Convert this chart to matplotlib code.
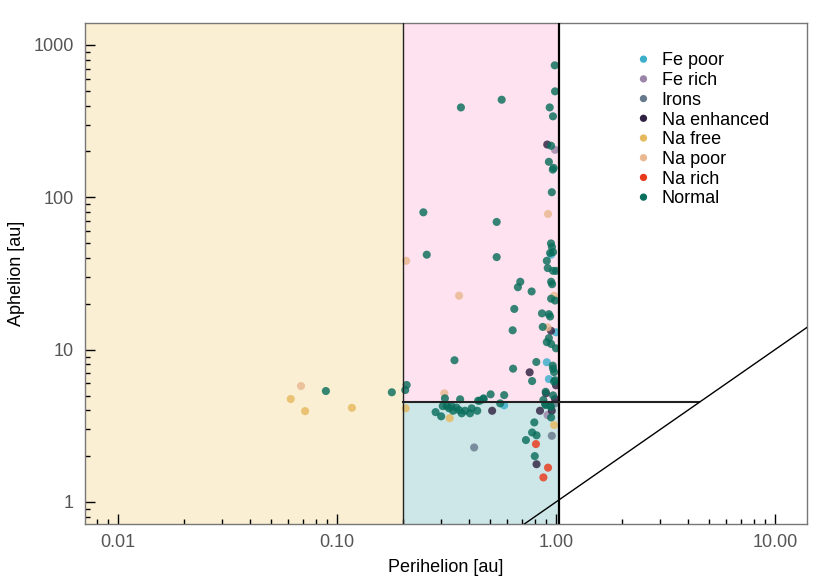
import matplotlib
matplotlib.use('Agg')
import matplotlib.pyplot as plt
from matplotlib.ticker import FixedLocator, FormatStrFormatter, LogLocator, NullFormatter
from matplotlib.patches import Rectangle

plt.rcParams['font.family'] = ['Liberation Sans', 'DejaVu Sans']

# ---- data: perihelion q [au], aphelion Q [au] per spectral class ----
categories = ['Fe poor', 'Fe rich', 'Irons', 'Na enhanced', 'Na free', 'Na poor', 'Na rich', 'Normal']
colors = ['#3aaecb', '#9a85a8', '#677a8d', '#2f2142', '#e6b95e', '#eab890', '#e8391a', '#0a6e5c']

fe_poor_q = [0.95, 1.0, 0.908, 0.928, 0.58]
fe_poor_Q = [42.0, 13.0, 8.27, 6.41, 4.31]

fe_rich_q = [0.99, 0.915]
fe_rich_Q = [205, 3.72]

irons_q = [0.423, 0.99, 0.957]
irons_Q = [2.28, 4.44, 2.72]

na_enh_q = [0.912, 0.949, 0.758, 1.0, 0.9, 0.99, 0.845, 0.957, 0.511, 0.815]
na_enh_Q = [222, 13.3, 7.10, 5.83, 5.17, 4.74, 3.97, 3.97, 3.97, 1.77]

na_free_q = [0.0615, 0.0715, 0.117, 0.206, 0.327, 0.98]
na_free_Q = [4.74, 3.95, 4.15, 4.12, 3.55, 3.20]

na_poor_q = [0.0685, 0.92, 0.207, 0.361, 0.98, 0.915, 0.309]
na_poor_Q = [5.77, 77.8, 38.3, 22.6, 22.6, 14.0, 5.17]

na_rich_q = [0.81, 0.92, 0.876]
na_rich_Q = [2.40, 1.68, 1.45]

normal_q = [0.089, 0.178, 0.208, 0.205,
            0.987, 0.99, 0.368, 0.565, 0.936, 0.969, 0.949, 0.928, 0.976, 0.967, 0.957, 0.248,
            0.536, 0.257, 0.536, 0.949, 0.958, 0.94, 0.97, 0.908, 0.917, 0.97, 1.0, 0.95, 0.96,
            0.95, 0.99, 0.687, 0.67, 0.774, 0.645, 0.863, 0.928, 0.94, 0.87, 0.634, 0.928, 0.908,
            0.95, 1.0, 0.344, 0.637, 0.813, 0.778, 0.967, 0.98, 0.98, 0.97, 0.99, 0.897,
            0.311, 0.365, 0.503, 0.580, 0.441, 0.467, 0.97, 0.876,
            0.556, 0.897, 0.94, 0.893, 0.949,
            0.282, 0.299, 0.304, 0.317, 0.333, 0.351, 0.361, 0.371, 0.339, 0.325, 0.384, 0.405,
            0.412, 0.437, 0.449, 0.467,
            0.95, 0.796, 0.778, 0.815, 0.729, 0.80]
normal_Q = [5.35, 5.25, 5.86, 5.43,
            735, 496, 389, 437, 389, 340, 218, 171, 156, 152, 108, 79.7,
            68.9, 42.0, 40.5, 49.8, 47.2, 43.1, 43.7, 38.3, 34.3, 32.9, 32.9, 27.9, 26.9,
            21.6, 21.0, 27.9, 25.7, 24.1, 18.5, 17.3, 17.1, 16.5, 14.1, 13.4, 11.9, 11.2,
            10.9, 10.2, 8.52, 7.50, 8.30, 6.22, 7.85, 7.12, 6.16, 7.5, 6.3, 5.29,
            4.79, 4.72, 5.09, 5.03, 4.62, 4.72, 5.01, 4.67,
            4.44, 4.33, 4.28, 4.38, 4.22,
            3.89, 3.65, 4.26, 4.26, 4.26, 4.17, 4.01, 3.82, 3.97, 4.12, 3.97, 3.82,
            4.12, 3.97, 4.62, 4.79,
            3.59, 3.33, 2.86, 2.74, 2.55, 2.00]

series_q = [fe_poor_q, fe_rich_q, irons_q, na_enh_q, na_free_q, na_poor_q, na_rich_q, normal_q]
series_Q = [fe_poor_Q, fe_rich_Q, irons_Q, na_enh_Q, na_free_Q, na_poor_Q, na_rich_Q, normal_Q]

# region boundaries
q_inner = 0.2
q_earth = 1.03
Q_jup = 4.5
xlim = (0.00707, 14.0)
ylim = (0.717, 1400)

fig = plt.figure(figsize=(8.3, 5.81), dpi=100)
ax = fig.add_axes([85 / 830, 1 - 524 / 581, 722 / 830, (524 - 22.7) / 581])
ax.set_xscale('log')
ax.set_yscale('log')
ax.set_xlim(*xlim)
ax.set_ylim(*ylim)

ax.add_patch(Rectangle((xlim[0], ylim[0]), q_inner - xlim[0], ylim[1] - ylim[0],
                       facecolor='#faefd3', edgecolor='none', zorder=0))
ax.add_patch(Rectangle((q_inner, Q_jup), q_earth - q_inner, ylim[1] - Q_jup,
                       facecolor='#ffe2ef', edgecolor='none', zorder=0))
ax.add_patch(Rectangle((q_inner, ylim[0]), q_earth - q_inner, Q_jup - ylim[0],
                       facecolor='#cde6e7', edgecolor='none', zorder=0))

for name, col, qs, Qs in zip(categories, colors, series_q, series_Q):
    ax.scatter(qs, Qs, s=34, color=col, alpha=0.82, edgecolors='none', label=name, zorder=2)

ax.axvline(q_inner, color='#222222', lw=1.0, zorder=3)
ax.axvline(q_earth, color='black', lw=1.6, zorder=3)
ax.plot([q_inner, Q_jup], [Q_jup, Q_jup], color='#222222', lw=1.5, zorder=3)
ax.plot([0.3, 30], [0.3, 30], color='black', lw=1.0, zorder=3)

ax.xaxis.set_major_locator(FixedLocator([0.01, 0.1, 1, 10]))
ax.xaxis.set_major_formatter(FormatStrFormatter('%.2f'))
ax.yaxis.set_major_locator(FixedLocator([1, 10, 100, 1000]))
ax.yaxis.set_major_formatter(FormatStrFormatter('%g'))
ax.xaxis.set_minor_locator(LogLocator(base=10, subs=range(2, 10)))
ax.yaxis.set_minor_locator(LogLocator(base=10, subs=range(2, 10)))
ax.xaxis.set_minor_formatter(NullFormatter())
ax.yaxis.set_minor_formatter(NullFormatter())

ax.tick_params(which='both', direction='in', top=False, right=False, color='black', width=1)
ax.tick_params(which='major', length=7.2, labelsize=13, labelcolor='#555555')
ax.tick_params(which='minor', length=3.6)
ax.tick_params(axis='x', which='major', pad=7)
ax.tick_params(axis='y', which='major', pad=8)

for sp in ax.spines.values():
    sp.set_color('#777777')
    sp.set_linewidth(1.0)

ax.set_xlabel('Perihelion [au]', fontsize=13, labelpad=6)
ax.set_ylabel('Aphelion [au]', fontsize=13, labelpad=6)

leg = ax.legend(loc='upper left', bbox_to_anchor=(0.7385, 0.973), frameon=False,
                fontsize=13, labelspacing=0.15, handletextpad=0.5, handlelength=1.0,
                markerscale=0.9, scatteryoffsets=[0.5])
for h in leg.legend_handles:
    h.set_alpha(1)

fig.savefig('out.png', dpi=100)
